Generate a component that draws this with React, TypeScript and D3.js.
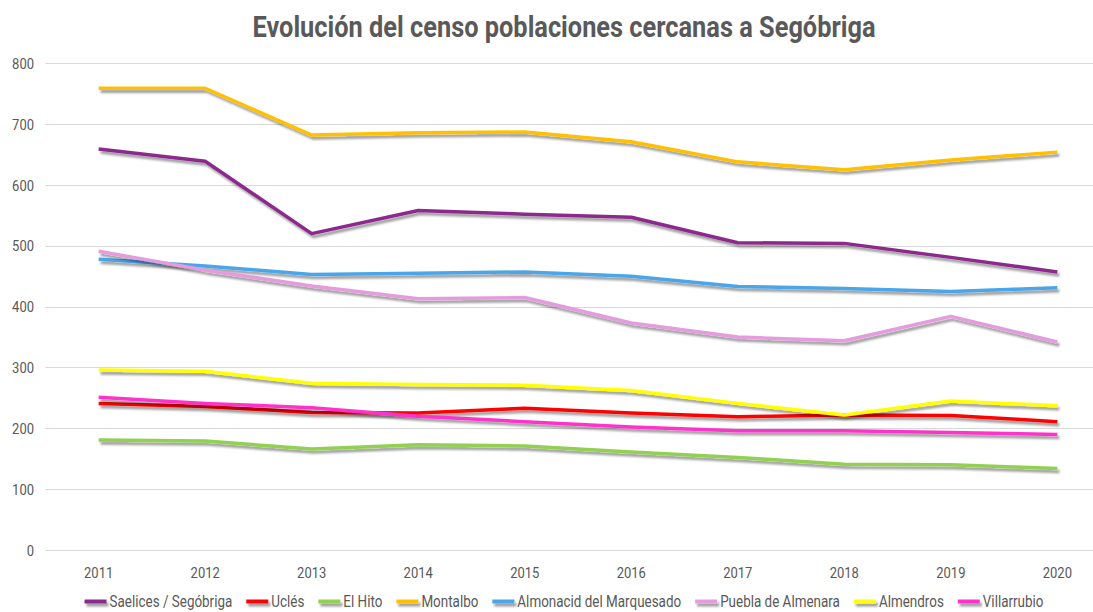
import React, { useEffect, useRef } from "react";
import * as d3 from "d3";

const years = ["2011", "2012", "2013", "2014", "2015", "2016", "2017", "2018", "2019", "2020"];

const seriesNames = [
  "Saelices / Segóbriga",
  "Uclés",
  "El Hito",
  "Montalbo",
  "Almonacid del Marquesado",
  "Puebla de Almenara",
  "Almendros",
  "Villarrubio",
];

const saelices = [659, 639, 520, 558, 552, 547, 505, 504, 481, 457];
const ucles = [241, 236, 226, 225, 233, 225, 219, 222, 221, 211];
const elHito = [181, 179, 166, 173, 171, 161, 152, 141, 140, 134];
const montalbo = [759, 759, 682, 686, 687, 671, 638, 625, 641, 654];
const almonacid = [478, 467, 453, 455, 457, 450, 433, 430, 425, 431];
const puebla = [491, 460, 434, 413, 415, 373, 350, 344, 384, 342];
const almendros = [296, 294, 274, 272, 271, 262, 241, 222, 245, 237];
const villarrubio = [251, 241, 234, 220, 211, 202, 196, 196, 193, 190];

const yTicks = [0, 100, 200, 300, 400, 500, 600, 700, 800];

const colors = ["#8B2A8C", "#FF0000", "#92D050", "#FFC000", "#48A6EA", "#E49CDE", "#FFFF00", "#FF33CC"];

const title = "Evolución del censo poblaciones cercanas a Segóbriga";

const FONT = "Roboto, 'Noto Sans', sans-serif";
// the original uses a narrow face; squeeze a regular one horizontally
const NARROW = 0.84;

function CensusChart() {
  const svgRef = useRef<SVGSVGElement>(null);

  useEffect(() => {
    if (!svgRef.current) return;
    document.body.style.margin = "0";

    const width = 1093;
    const height = 612;
    const centerX = 564;
    const allSeries = [saelices, ucles, elHito, montalbo, almonacid, puebla, almendros, villarrubio];

    const svg = d3.select(svgRef.current).attr("width", width).attr("height", height);
    svg.selectAll("*").remove();

    const defs = svg.append("defs");
    const filter = defs
      .append("filter")
      .attr("id", "shadow")
      .attr("filterUnits", "userSpaceOnUse")
      .attr("x", 0)
      .attr("y", 0)
      .attr("width", width)
      .attr("height", height);
    filter
      .append("feDropShadow")
      .attr("dx", 2)
      .attr("dy", 3)
      .attr("stdDeviation", 1.3)
      .attr("flood-color", "#000")
      .attr("flood-opacity", 0.38);

    const x = d3.scaleBand<string>().domain(years).range([45.4, 1110.6]).padding(0);
    const y = d3.scaleLinear().domain([0, 800]).range([550, 63.3]);

    // title
    svg
      .append("text")
      .attr("x", centerX)
      .attr("y", 37)
      .attr("text-anchor", "middle")
      .attr("font-family", FONT)
      .attr("font-size", 29)
      .attr("font-weight", 700)
      .attr("fill", "#595959")
      .attr("textLength", 623)
      .attr("lengthAdjust", "spacingAndGlyphs")
      .text(title);

    // gridlines
    svg
      .append("g")
      .selectAll("line")
      .data(yTicks)
      .join("line")
      .attr("x1", 45.4)
      .attr("x2", 1110.6)
      .attr("y1", (d) => Math.round(y(d)) + 0.5)
      .attr("y2", (d) => Math.round(y(d)) + 0.5)
      .attr("stroke", "#D9D9D9")
      .attr("stroke-width", 1);

    // y labels
    svg
      .append("g")
      .selectAll("text")
      .data(yTicks)
      .join("text")
      .attr("transform", (d) => `translate(34,${y(d)}) scale(${NARROW},1)`)
      .attr("dy", "0.36em")
      .attr("text-anchor", "end")
      .attr("font-family", FONT)
      .attr("font-size", 15.5)
      .attr("fill", "#595959")
      .text((d) => d);

    // x labels
    svg
      .append("g")
      .selectAll("text")
      .data(years)
      .join("text")
      .attr("transform", (d) => `translate(${(x(d) ?? 0) + x.bandwidth() / 2},578) scale(${NARROW},1)`)
      .attr("text-anchor", "middle")
      .attr("font-family", FONT)
      .attr("font-size", 15.5)
      .attr("fill", "#595959")
      .text((d) => d);

    const line = d3
      .line<number>()
      .x((_, i) => (x(years[i]) ?? 0) + x.bandwidth() / 2)
      .y((d) => y(d));

    svg
      .append("g")
      .selectAll("path")
      .data(allSeries)
      .join("path")
      .attr("d", (d) => line(d))
      .attr("fill", "none")
      .attr("stroke", (_, i) => colors[i])
      .attr("stroke-width", 3.5)
      .attr("stroke-linejoin", "round")
      .attr("filter", "url(#shadow)");

    // legend
    const legend = svg.append("g");
    const items = seriesNames.map((name, i) => {
      const g = legend.append("g");
      g.append("rect")
        .attr("x", 0)
        .attr("y", 599.5)
        .attr("width", 22)
        .attr("height", 4)
        .attr("fill", colors[i])
        .attr("filter", "url(#shadow)");
      const t = g
        .append("text")
        .attr("transform", `translate(25,606.5) scale(${NARROW},1)`)
        .attr("font-family", FONT)
        .attr("font-size", 16)
        .attr("fill", "#595959")
        .text(name);
      const w = (t.node() as SVGTextElement).getComputedTextLength() * NARROW;
      return { g, w: 25 + w };
    });
    const gap = 14;
    const total = d3.sum(items, (d) => d.w) + gap * (items.length - 1);
    let cursor = centerX - total / 2;
    items.forEach((it) => {
      it.g.attr("transform", `translate(${cursor},0)`);
      cursor += it.w + gap;
    });
  }, []);

  return <svg ref={svgRef} style={{ display: "block", background: "#fff" }} />;
}

export default function App() {
  return <CensusChart />;
}
